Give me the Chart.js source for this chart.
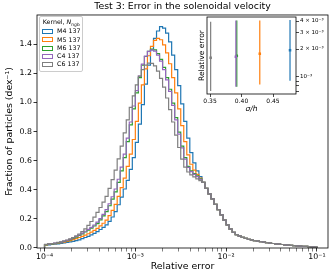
<!DOCTYPE html>
<html>
<head>
<meta charset="utf-8">
<script src="https://cdn.jsdelivr.net/npm/chart.js@4.4.0/dist/chart.umd.min.js"></script>
<style>
  html, body { margin: 0; padding: 0; background: #fff; }
  #wrap { position: relative; width: 332px; height: 276px; overflow: hidden; font-family: 'DejaVu Sans', sans-serif; }
  #main { position: absolute; left: 0; top: 0; }
  #inset { position: absolute; left: 190px; top: 10px; }
  #legend {
    position: absolute; left: 39px; top: 16px;
    padding: 1px 2px 2px 2px;
    border: 0.8px solid #cccccc; border-radius: 2px;
    background: rgba(255, 255, 255, 0.8);
    font-size: 6.3px; color: #000; line-height: 8.3px;
  }
  #legend .lt { text-align: center; margin-bottom: 1px; white-space: nowrap; }
  #legend .lt sub { font-size: 4.4px; line-height: 0; }
  #legend .li { display: flex; align-items: center; height: 8.3px; white-space: nowrap; }
  #legend .sw { width: 11px; height: 5px; box-sizing: border-box; border: 1.1px solid; margin-right: 4px; }
</style>
</head>
<body>
<div id="wrap">
  <canvas id="main" width="332" height="276"></canvas>
  <canvas id="inset" width="142" height="105"></canvas>
  <div id="legend"><div class="lt">Kernel, <i>N</i><sub>ngb</sub></div></div>
</div>
<script>
const FONT = "'DejaVu Sans', sans-serif";

// histogram bin edges, log10 of the relative error (30 bins per dex)
const binEdgesLog = [-4.0000, -3.9667, -3.9333, -3.9000, -3.8667, -3.8333, -3.8000, -3.7667, -3.7333, -3.7000,
  -3.6667, -3.6333, -3.6000, -3.5667, -3.5333, -3.5000, -3.4667, -3.4333, -3.4000, -3.3667,
  -3.3333, -3.3000, -3.2667, -3.2333, -3.2000, -3.1667, -3.1333, -3.1000, -3.0667, -3.0333,
  -3.0000, -2.9667, -2.9333, -2.9000, -2.8667, -2.8333, -2.8000, -2.7667, -2.7333, -2.7000,
  -2.6667, -2.6333, -2.6000, -2.5667, -2.5333, -2.5000, -2.4667, -2.4333, -2.4000, -2.3667,
  -2.3333, -2.3000, -2.2667, -2.2333, -2.2000, -2.1667, -2.1333, -2.1000, -2.0667, -2.0333,
  -2.0000, -1.9667, -1.9333, -1.9000, -1.8667, -1.8333, -1.8000, -1.7667, -1.7333, -1.7000,
  -1.6667, -1.6333, -1.6000, -1.5667, -1.5333, -1.5000, -1.4667, -1.4333, -1.4000, -1.3667,
  -1.3333, -1.3000, -1.2667, -1.2333, -1.2000, -1.1667, -1.1333, -1.1000, -1.0667, -1.0333,
  -1.0000];

const kernels = ['M4 137', 'M5 137', 'M6 137', 'C4 137', 'C6 137'];
const colors = ['#1f77b4', '#ff7f0e', '#2ca02c', '#9467bd', '#7f7f7f'];

// fraction of particles per dex, one value per bin
const m4 = [0.020, 0.021, 0.024, 0.026, 0.029, 0.032, 0.035, 0.038, 0.042, 0.046,
  0.051, 0.056, 0.064, 0.072, 0.080, 0.090, 0.101, 0.113, 0.127, 0.142,
  0.159, 0.183, 0.213, 0.250, 0.297, 0.350, 0.405, 0.465, 0.540, 0.620,
  0.725, 0.850, 0.985, 1.125, 1.255, 1.360, 1.440, 1.490, 1.520, 1.510,
  1.475, 1.415, 1.325, 1.225, 1.115, 0.990, 0.870, 0.755, 0.655, 0.585,
  0.530, 0.490, 0.450, 0.410, 0.372, 0.337, 0.300, 0.264, 0.228, 0.192,
  0.158, 0.130, 0.108, 0.092, 0.081, 0.073, 0.066, 0.060, 0.055, 0.051,
  0.047, 0.043, 0.040, 0.037, 0.034, 0.031, 0.029, 0.026, 0.024, 0.022,
  0.020, 0.018, 0.016, 0.015, 0.013, 0.012, 0.011, 0.009, 0.008, 0.007];
const m5 = [0.022, 0.025, 0.028, 0.030, 0.033, 0.037, 0.041, 0.046, 0.051, 0.058,
  0.065, 0.072, 0.080, 0.089, 0.098, 0.109, 0.121, 0.135, 0.152, 0.170,
  0.191, 0.222, 0.258, 0.300, 0.355, 0.415, 0.480, 0.560, 0.645, 0.745,
  0.870, 0.995, 1.120, 1.230, 1.320, 1.385, 1.425, 1.440, 1.430, 1.395,
  1.340, 1.265, 1.170, 1.065, 0.955, 0.840, 0.730, 0.640, 0.575, 0.535,
  0.505, 0.480, 0.450, 0.410, 0.372, 0.337, 0.300, 0.264, 0.228, 0.192,
  0.158, 0.130, 0.108, 0.092, 0.081, 0.073, 0.066, 0.060, 0.055, 0.051,
  0.047, 0.043, 0.040, 0.037, 0.034, 0.031, 0.029, 0.026, 0.024, 0.022,
  0.020, 0.018, 0.016, 0.015, 0.013, 0.012, 0.011, 0.009, 0.008, 0.007];
const m6 = [0.023, 0.026, 0.029, 0.031, 0.035, 0.039, 0.045, 0.051, 0.057, 0.066,
  0.075, 0.086, 0.097, 0.110, 0.123, 0.136, 0.151, 0.168, 0.193, 0.220,
  0.250, 0.290, 0.335, 0.385, 0.450, 0.530, 0.620, 0.730, 0.845, 0.955,
  1.065, 1.170, 1.255, 1.315, 1.350, 1.365, 1.360, 1.335, 1.295, 1.240,
  1.170, 1.090, 0.995, 0.895, 0.795, 0.700, 0.620, 0.560, 0.530, 0.510,
  0.495, 0.475, 0.450, 0.410, 0.372, 0.337, 0.300, 0.264, 0.228, 0.192,
  0.158, 0.130, 0.108, 0.092, 0.081, 0.073, 0.066, 0.060, 0.055, 0.051,
  0.047, 0.043, 0.040, 0.037, 0.034, 0.031, 0.029, 0.026, 0.024, 0.022,
  0.020, 0.018, 0.016, 0.015, 0.013, 0.012, 0.011, 0.009, 0.008, 0.007];
const c4 = [0.024, 0.027, 0.030, 0.033, 0.037, 0.041, 0.047, 0.053, 0.060, 0.069,
  0.079, 0.090, 0.102, 0.115, 0.128, 0.142, 0.158, 0.177, 0.202, 0.231,
  0.263, 0.304, 0.352, 0.405, 0.472, 0.555, 0.645, 0.755, 0.865, 0.975,
  1.080, 1.180, 1.262, 1.318, 1.350, 1.360, 1.352, 1.325, 1.283, 1.225,
  1.155, 1.075, 0.980, 0.880, 0.782, 0.688, 0.610, 0.553, 0.524, 0.505,
  0.490, 0.472, 0.450, 0.410, 0.372, 0.337, 0.300, 0.264, 0.228, 0.192,
  0.158, 0.130, 0.108, 0.092, 0.081, 0.073, 0.066, 0.060, 0.055, 0.051,
  0.047, 0.043, 0.040, 0.037, 0.034, 0.031, 0.029, 0.026, 0.024, 0.022,
  0.020, 0.018, 0.016, 0.015, 0.013, 0.012, 0.011, 0.009, 0.008, 0.007];
const c6 = [0.025, 0.028, 0.031, 0.034, 0.038, 0.042, 0.048, 0.055, 0.062, 0.072,
  0.083, 0.096, 0.113, 0.132, 0.155, 0.182, 0.212, 0.245, 0.278, 0.315,
  0.355, 0.410, 0.470, 0.535, 0.612, 0.700, 0.790, 0.880, 0.965, 1.045,
  1.120, 1.180, 1.225, 1.255, 1.270, 1.268, 1.250, 1.215, 1.165, 1.105,
  1.030, 0.950, 0.865, 0.775, 0.690, 0.610, 0.555, 0.522, 0.502, 0.488,
  0.475, 0.462, 0.450, 0.410, 0.372, 0.337, 0.300, 0.264, 0.228, 0.192,
  0.158, 0.130, 0.108, 0.092, 0.081, 0.073, 0.066, 0.060, 0.055, 0.051,
  0.047, 0.043, 0.040, 0.037, 0.034, 0.031, 0.029, 0.026, 0.024, 0.022,
  0.020, 0.018, 0.016, 0.015, 0.013, 0.012, 0.011, 0.009, 0.008, 0.007];
const series = [m4, m5, m6, c4, c6];

const xMajorTicks = [1e-4, 1e-3, 1e-2, 1e-1];
const xTickLabels = ['10⁻⁴', '10⁻³', '10⁻²', '10⁻¹'];
const yTicks = [0, 0.2, 0.4, 0.6, 0.8, 1.0, 1.2, 1.4];

// inset: median relative error vs sigma/h with spread
const sigmaH = [0.477, 0.429, 0.3925, 0.391, 0.351];
const errMid = [1.94e-3, 1.78e-3, 1.69e-3, 1.65e-3, 1.61e-3];
const errLo = [9.1e-4, 8.3e-4, 7.87e-4, 7.87e-4, 7.07e-4];
const errHi = [4.1e-3, 4.05e-3, 4.05e-3, 4.05e-3, 3.93e-3];
const insetXTicks = [0.35, 0.40, 0.45];
const insetYTicks = [7e-4, 8e-4, 9e-4, 1e-3, 2e-3, 3e-3, 4e-3];
const insetYLabels = { '0.001': '10⁻³', '0.002': '2 × 10⁻³', '0.003': '3 × 10⁻³', '0.004': '4 × 10⁻³' };

function stepPoints(vals) {
  const pts = [{ x: 10 ** binEdgesLog[0], y: 0 }];
  vals.forEach((v, i) => pts.push({ x: 10 ** binEdgesLog[i], y: v }));
  pts.push({ x: 10 ** binEdgesLog[vals.length], y: 0 });
  return pts;
}

function majorIndex(v) {
  return xMajorTicks.findIndex(m => Math.abs(v / m - 1) < 1e-6);
}

const framePlugin = {
  id: 'frame',
  beforeDatasetsDraw(chart, args, opts) {
    if (!opts.fill) return;
    const { ctx, chartArea: a } = chart;
    ctx.save();
    ctx.fillStyle = '#fff';
    ctx.fillRect(a.left, a.top, a.right - a.left, a.bottom - a.top);
    ctx.restore();
  },
  afterDatasetsDraw(chart) {
    const { ctx, chartArea: a } = chart;
    ctx.save();
    ctx.strokeStyle = '#000';
    ctx.lineWidth = 0.8;
    ctx.strokeRect(a.left, a.top, a.right - a.left, a.bottom - a.top);
    ctx.restore();
  }
};

// main histogram
const minorX = [];
[1e-5, 1e-4, 1e-3, 1e-2, 1e-1].forEach(d => {
  for (let k = 2; k <= 9; k++) minorX.push(d * k);
});

new Chart(document.getElementById('main'), {
  type: 'line',
  data: {
    datasets: kernels.map((k, i) => ({
      label: k,
      data: stepPoints(series[i]),
      borderColor: colors[i],
      borderWidth: 1.2,
      pointRadius: 0,
      stepped: true,
      fill: false,
      order: kernels.length - i
    }))
  },
  options: {
    responsive: false,
    animation: false,
    devicePixelRatio: 1,
    layout: { padding: { left: 0, right: 4, top: 0, bottom: 0 } },
    plugins: {
      legend: { display: false },
      tooltip: { enabled: false },
      frame: { fill: false },
      title: {
        display: true,
        fullSize: false,
        text: 'Test 3: Error in the solenoidal velocity',
        color: '#000',
        font: { family: FONT, size: 9.4, weight: 'normal' },
        padding: { top: 1, bottom: 2.7 }
      }
    },
    scales: {
      x: {
        type: 'logarithmic',
        min: 8.26e-5,
        max: 0.1324,
        afterBuildTicks: s => {
          const vals = xMajorTicks.concat(minorX).filter(v => v >= s.min && v <= s.max).sort((a, b) => a - b);
          s.ticks = vals.map(v => ({ value: v, major: majorIndex(v) >= 0 }));
        },
        afterFit: s => { s.height = 28; },
        ticks: {
          autoSkip: false, maxRotation: 0, padding: 1, color: '#000',
          font: { family: FONT, size: 7.8 },
          callback: v => { const i = majorIndex(v); return i >= 0 ? xTickLabels[i] : ''; }
        },
        grid: {
          drawOnChartArea: false, tickLength: 3.5, color: '#000',
          lineWidth: c => (c.tick && c.tick.major ? 0.8 : 0.5)
        },
        border: { display: false },
        title: {
          display: true, text: 'Relative error', color: '#000',
          font: { family: FONT, size: 9.4 }, padding: { top: 0, bottom: 3.4 }
        }
      },
      y: {
        type: 'linear',
        min: 0,
        max: 1.6,
        afterBuildTicks: s => { s.ticks = yTicks.map(v => ({ value: v })); },
        afterFit: s => { s.width = 37; },
        ticks: {
          padding: 1.5, color: '#000', font: { family: FONT, size: 7.8 },
          callback: v => v.toFixed(1)
        },
        grid: { drawOnChartArea: false, tickLength: 3.5, color: '#000', lineWidth: 0.8 },
        border: { display: false },
        title: {
          display: true, text: 'Fraction of particles (dex⁻¹)', color: '#000',
          font: { family: FONT, size: 9.4 }, padding: { top: 4.4, bottom: 0 }
        }
      }
    }
  },
  plugins: [framePlugin]
});

// legend
const legendBox = document.getElementById('legend');
kernels.forEach((k, i) => {
  const row = document.createElement('div');
  row.className = 'li';
  row.innerHTML = '<span class="sw" style="border-color:' + colors[i] + '"></span><span>' + k + '</span>';
  legendBox.appendChild(row);
});

// inset
const insetSets = [];
kernels.forEach((k, i) => {
  insetSets.push({
    type: 'line',
    data: [{ x: sigmaH[i], y: errLo[i] }, { x: sigmaH[i], y: errHi[i] }],
    borderColor: colors[i],
    borderWidth: 1.2,
    pointRadius: 0,
    showLine: true,
    yAxisID: 'y',
    order: 2 * (kernels.length - i)
  });
  insetSets.push({
    type: 'scatter',
    data: [{ x: sigmaH[i], y: errMid[i] }],
    backgroundColor: colors[i],
    borderWidth: 0,
    pointStyle: 'rect',
    pointRadius: 1.8,
    yAxisID: 'y',
    order: 2 * (kernels.length - i) - 1
  });
});

new Chart(document.getElementById('inset'), {
  type: 'scatter',
  data: { datasets: insetSets },
  options: {
    responsive: false,
    animation: false,
    devicePixelRatio: 1,
    layout: { padding: { left: 0, right: 0, top: 7, bottom: 0 } },
    plugins: { legend: { display: false }, tooltip: { enabled: false }, frame: { fill: true } },
    scales: {
      x: {
        type: 'linear',
        min: 0.3452,
        max: 0.4865,
        afterBuildTicks: s => { s.ticks = insetXTicks.map(v => ({ value: v })); },
        afterFit: s => { s.height = 21; },
        ticks: { padding: 1, color: '#000', font: { family: FONT, size: 6 }, callback: v => v.toFixed(2) },
        grid: { drawOnChartArea: false, tickLength: 3, color: '#000', lineWidth: 0.7 },
        border: { display: false },
        title: {
          display: true, text: 'σ/h', color: '#000',
          font: { family: FONT, size: 7.5, style: 'italic' }, padding: { top: 0, bottom: 1 }
        }
      },
      y: {
        type: 'logarithmic',
        position: 'right',
        min: 6.56e-4,
        max: 4.42e-3,
        afterBuildTicks: s => { s.ticks = insetYTicks.map(v => ({ value: v })); },
        afterFit: s => { s.width = 36; },
        ticks: {
          padding: 1, color: '#000', font: { family: FONT, size: 5.5 },
          callback: v => insetYLabels[String(+v.toPrecision(3))] || ''
        },
        grid: { drawOnChartArea: false, tickLength: 3, color: '#000', lineWidth: 0.7 },
        border: { display: false }
      },
      yl: {
        type: 'linear',
        position: 'left',
        afterFit: s => { s.width = 17; },
        ticks: { display: false },
        grid: { display: false },
        border: { display: false },
        title: {
          display: true, text: 'Relative error', color: '#000',
          font: { family: FONT, size: 7.5 }, padding: { top: 7.5, bottom: 0 }
        }
      }
    }
  },
  plugins: [framePlugin]
});
</script>
</body>
</html>
